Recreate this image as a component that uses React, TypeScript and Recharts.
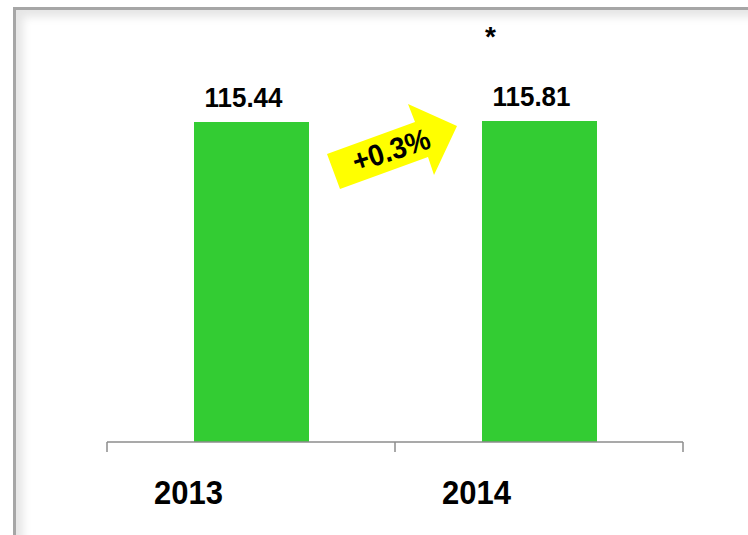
import React from 'react';
import { BarChart, Bar, XAxis, YAxis, LabelList } from 'recharts';

const years = ['2013', '2014'];
const values = [115.44, 115.81];
const notes = ['', '*'];
const changeLabel = '+0.3%';

const data = years.map((year, i) => ({ year, value: values[i], note: notes[i] }));

const FONT = '"Liberation Sans", Arial, sans-serif';

// category ticks sit on the band edges, year labels are shifted left of the bar
const YearTick = (props: any) => {
  const { x, y, payload, index } = props;
  const half = payload?.offset || 144;
  const last = index === years.length - 1;
  return (
    <g>
      <line x1={x - half} y1={y} x2={x - half} y2={y + 10} stroke="#8c8c8c" strokeWidth={1.5} />
      {last && <line x1={x + half} y1={y} x2={x + half} y2={y + 10} stroke="#8c8c8c" strokeWidth={1.5} />}
      <text
        x={x - 97}
        y={y + 62}
        textLength={69}
        lengthAdjust="spacingAndGlyphs"
        fontFamily={FONT}
        fontWeight="bold"
        fontSize={33}
        fill="#000"
      >
        {payload.value}
      </text>
    </g>
  );
};

const ValueLabel = (props: any) => {
  const { x, y, width, value } = props;
  return (
    <text
      x={x + width / 2 - 47}
      y={y - 15}
      textLength={78}
      lengthAdjust="spacingAndGlyphs"
      fontFamily={FONT}
      fontWeight="bold"
      fontSize={28}
      fill="#000"
    >
      {Number(value).toFixed(2)}
    </text>
  );
};

const NoteLabel = (props: any) => {
  const { x, y, width, value } = props;
  if (!value) return null;
  return (
    <text x={x + width / 2 - 49} y={y - 75} textAnchor="middle" fontFamily={FONT} fontWeight="bold" fontSize={28} fill="#000">
      {value}
    </text>
  );
};

export default function App() {
  return (
    <div style={{ position: 'absolute', left: 0, top: 0, width: 748, height: 535, overflow: 'hidden', background: '#fff' }}>
      <div
        style={{
          position: 'absolute',
          left: 13,
          top: 7,
          width: 760,
          height: 560,
          borderLeft: '3px solid #a6a6a6',
          borderTop: '3px solid #a6a6a6',
          boxShadow: 'inset 7px 7px 9px rgba(0,0,0,0.10)',
        }}
      />
      <div style={{ position: 'absolute', left: 0, top: 0 }}>
        <BarChart width={748} height={535} data={data} margin={{ top: 40, right: 65, left: 107, bottom: 33 }}>
          <XAxis
            dataKey="year"
            height={60}
            axisLine={{ stroke: '#8c8c8c', strokeWidth: 1.5 }}
            tickLine={false}
            tickSize={0}
            tickMargin={0}
            tick={<YearTick />}
            interval={0}
          />
          <YAxis hide domain={[0, 145]} />
          <Bar dataKey="value" fill="#33cc33" barSize={115} isAnimationActive={false}>
            <LabelList dataKey="value" content={<ValueLabel />} />
            <LabelList dataKey="note" content={<NoteLabel />} />
          </Bar>
        </BarChart>
      </div>
      <svg width={748} height={535} style={{ position: 'absolute', left: 0, top: 0, pointerEvents: 'none' }}>
        <polygon
          points="327,154 415,122 408,104 457,126 434,175 428,157 340,189"
          fill="#ffff00"
        />
        <text
          x={391}
          y={150}
          transform="rotate(-18 391 150)"
          textAnchor="middle"
          dominantBaseline="central"
          textLength={80}
          lengthAdjust="spacingAndGlyphs"
          fontFamily={FONT}
          fontWeight="bold"
          fontSize={30}
          fill="#000"
        >
          {changeLabel}
        </text>
      </svg>
    </div>
  );
}
